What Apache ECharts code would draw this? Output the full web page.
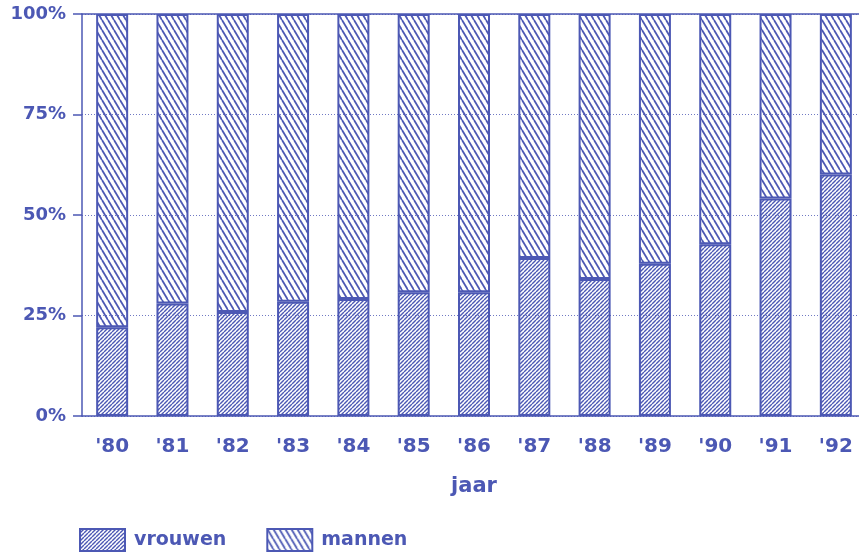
<!DOCTYPE html>
<html>
<head>
<meta charset="utf-8">
<script src="https://cdn.jsdelivr.net/npm/echarts@6/dist/echarts.min.js"></script>
<style>
  html, body { margin: 0; padding: 0; background: #fff; }
  #chart { width: 859px; height: 554px; }
</style>
</head>
<body>
<div id="chart"></div>
<script>
// aandeel vrouwen / mannen per jaar (in %)
var years = ["'80", "'81", "'82", "'83", "'84", "'85", "'86", "'87", "'88", "'89", "'90", "'91", "'92"];
var vrouwen = [22.1, 28.0, 25.9, 28.4, 29.1, 30.8, 30.8, 39.3, 34.1, 37.9, 42.7, 54.1, 60.1];
var mannen = [77.9, 72.0, 74.1, 71.6, 70.9, 69.2, 69.2, 60.7, 65.9, 62.1, 57.3, 45.9, 39.9];

var blue = '#4c58b4';

// arcering als canvas-patroon
function hatch(w, h, lw, dir) {
  var c = document.createElement('canvas');
  c.width = w; c.height = h;
  var ctx = c.getContext('2d');
  ctx.strokeStyle = blue;
  ctx.lineWidth = lw;
  for (var k = -1; k <= 1; k++) {
    ctx.beginPath();
    if (dir === '/') {
      ctx.moveTo(k * w, h);
      ctx.lineTo(k * w + w, 0);
    } else {
      ctx.moveTo(k * w, 0);
      ctx.lineTo(k * w + w, h);
    }
    ctx.stroke();
  }
  return { image: c, repeat: 'repeat' };
}

var fontFam = '"DejaVu Sans", sans-serif';

var chart = echarts.init(document.getElementById('chart'));
chart.setOption({
  animation: false,
  grid: { left: 82, top: 14, width: 784, bottom: 138, containLabel: false, outerBoundsMode: 'none' },
  legend: {
    left: 79,
    top: 528,
    padding: 0,
    itemWidth: 45,
    itemHeight: 22,
    itemGap: 40,
    icon: 'rect',
    textStyle: { color: blue, fontSize: 19, fontFamily: fontFam, fontWeight: 'bold', padding: [3, 0, 0, 4] },
    data: ['vrouwen', 'mannen']
  },
  xAxis: [
    {
      type: 'category',
      data: years,
      name: 'jaar',
      nameLocation: 'middle',
      nameGap: 60,
      nameTextStyle: { color: blue, fontSize: 21, fontFamily: fontFam, fontWeight: 'bold' },
      axisLine: { lineStyle: { color: blue, width: 1.5 } },
      axisTick: { alignWithLabel: true, length: 9, lineStyle: { color: blue, width: 1.5 } },
      axisLabel: { color: blue, fontSize: 20, fontFamily: fontFam, fontWeight: 'bold', margin: 21 }
    },
    {
      type: 'category',
      position: 'top',
      data: years,
      axisLine: { lineStyle: { color: blue, width: 1.5 } },
      axisTick: { show: false },
      axisLabel: { show: false }
    }
  ],
  yAxis: {
    type: 'value',
    min: 0,
    max: 100,
    interval: 25,
    axisLine: { show: true, lineStyle: { color: blue, width: 1.5 } },
    axisTick: { show: true, length: 9, lineStyle: { color: blue, width: 1.5 } },
    axisLabel: { color: blue, fontSize: 18, fontFamily: fontFam, fontWeight: 'bold', margin: 16, formatter: '{value}%' },
    splitLine: { show: true, lineStyle: { color: blue, type: [1, 2], width: 1, opacity: 0.8 } }
  },
  series: [
    {
      name: 'vrouwen',
      type: 'bar',
      stack: 'totaal',
      barWidth: 32,
      data: vrouwen,
      itemStyle: { color: hatch(4, 4, 1.4, '/'), borderColor: blue, borderWidth: 2 }
    },
    {
      name: 'mannen',
      type: 'bar',
      stack: 'totaal',
      barWidth: 32,
      data: mannen,
      itemStyle: { color: hatch(6, 10, 1.8, '\\'), borderColor: blue, borderWidth: 2 }
    }
  ]
});
</script>
</body>
</html>
